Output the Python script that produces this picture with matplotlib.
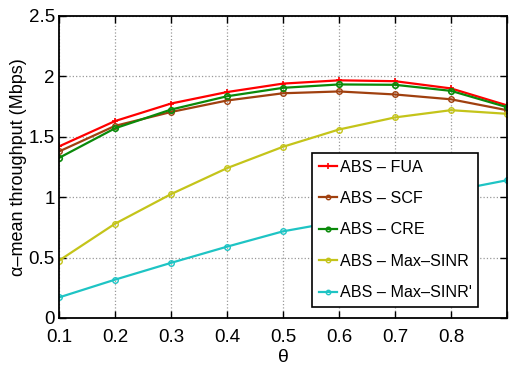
import numpy as np
import matplotlib
matplotlib.use('Agg')
import matplotlib.pyplot as plt

plt.rcParams['font.family'] = ['Liberation Sans', 'DejaVu Sans']

theta = [0.1, 0.2, 0.3, 0.4, 0.5, 0.6, 0.7, 0.8, 0.9]
fua = [1.42, 1.63, 1.775, 1.87, 1.94, 1.967, 1.96, 1.90, 1.76]
scf = [1.378, 1.59, 1.705, 1.80, 1.86, 1.875, 1.85, 1.81, 1.72]
cre = [1.325, 1.57, 1.725, 1.835, 1.905, 1.933, 1.93, 1.88, 1.745]
maxsinr = [0.475, 0.78, 1.025, 1.24, 1.417, 1.56, 1.66, 1.72, 1.69]
maxsinr2 = [0.17, 0.317, 0.456, 0.59, 0.717, 0.80, 0.92, 1.05, 1.14]

xtick_vals = [0.1, 0.2, 0.3, 0.4, 0.5, 0.6, 0.7, 0.8, 0.9]
xtick_labels = ['0.1', '0.2', '0.3', '0.4', '0.5', '0.6', '0.7', '0.8', '']
ytick_vals = [0, 0.5, 1, 1.5, 2, 2.5]
ytick_labels = ['0', '0.5', '1', '1.5', '2', '2.5']

fig = plt.figure(figsize=(5.09, 3.71), dpi=100)
ax = fig.add_axes([0.116, 0.143, 0.88, 0.814])

ax.plot(theta, fua, '-', color='#ff0000', marker='+', ms=5, mew=1.2, lw=1.6, label='ABS – FUA')
ax.plot(theta, scf, '-', color='#a0400f', marker='o', ms=4, mfc='none', mew=1.0, lw=1.6, label='ABS – SCF')
ax.plot(theta, cre, '-', color='#0a8a0a', marker='o', ms=4, mfc='none', mew=1.2, lw=1.6, label='ABS – CRE')
ax.plot(theta, maxsinr, '-', color='#c4c41a', marker='o', ms=4, mfc='none', mew=1.0, lw=1.6, label='ABS – Max–SINR')
ax.plot(theta, maxsinr2, '-', color='#1ec4c4', marker='o', ms=4, mfc='none', mew=1.0, lw=1.6, label="ABS – Max–SINR'")

ax.set_xlim(0.1, 0.9)
ax.set_ylim(0, 2.5)
ax.set_xticks(xtick_vals)
ax.set_xticklabels(xtick_labels)
ax.set_yticks(ytick_vals)
ax.set_yticklabels(ytick_labels)
ax.tick_params(direction='in', top=True, right=True, labelsize=13.5, length=5, width=1)
ax.tick_params(axis='x', pad=8)
ax.tick_params(axis='y', pad=3)
ax.grid(True, color='#999999', linestyle=':', linewidth=0.9)
for s in ax.spines.values():
    s.set_linewidth(1.3)

ax.set_xlabel('θ', fontsize=14, labelpad=2)
ax.set_ylabel('α–mean throughput (Mbps)', fontsize=13, labelpad=1)

leg = ax.legend(loc='upper left', bbox_to_anchor=(0.565, 0.546), borderaxespad=0,
                fontsize=11.6, fancybox=False, framealpha=1, edgecolor='black',
                handlelength=1.15, handletextpad=0.15, borderpad=0.4, labelspacing=1.02,
                markerscale=0.8)
leg.get_frame().set_linewidth(1.2)

fig.savefig('out.png', dpi=100)
